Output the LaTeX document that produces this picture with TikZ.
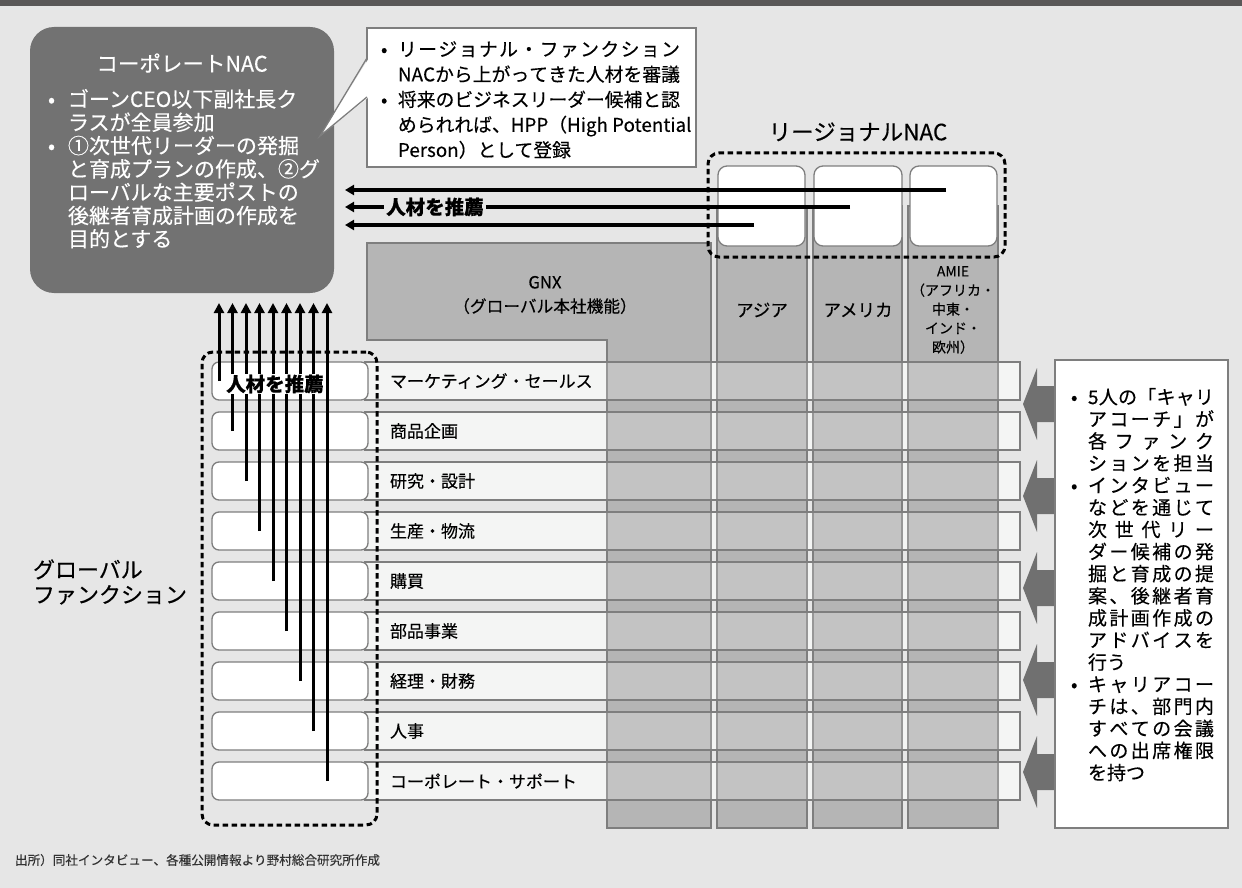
\documentclass[tikz,border=0pt]{standalone}
\usepackage{fontspec}
\setmainfont{Noto Sans CJK JP}[FakeBold=0.3]
\usetikzlibrary{arrows.meta,calc}
\definecolor{bg}{HTML}{E6E6E6}
\definecolor{topbar}{HTML}{5A5858}
\definecolor{nacgray}{HTML}{727272}
\definecolor{colgray}{HTML}{B5B5B5}
\definecolor{edgegray}{HTML}{7E7E7E}
\definecolor{bandfill}{HTML}{F2F3F2}
\definecolor{blockarrow}{HTML}{707070}
\definecolor{srcgray}{HTML}{333333}
\newcommand\fsz[2]{\fontsize{#1}{#2}\selectfont}
\makeatletter
\newcommand\jline[2]{\hbox to #1{\@tfor\jch:=#2\do{\jch\hfil}\unskip}}
\makeatother
\begin{document}
\begin{tikzpicture}[x=1pt,y=-1pt,
  every node/.style={inner sep=0pt, outer sep=0pt},
  nacbox/.style={fill=nacgray, rounded corners=24pt},
  whitebox/.style={fill=white, draw=edgegray, line width=1.3pt, rounded corners=7pt},
  bandbase/.style={fill=bandfill},
  bandedge/.style={draw=edgegray, line width=1.4pt, fill=white, fill opacity=0.2},
  colbox/.style={fill=colgray, draw=edgegray, line width=1.4pt},
  dashbox/.style={draw=black, line width=3pt, dash pattern=on 5.5pt off 3.5pt, rounded corners=11pt},
  uparrow/.style={line width=3pt, -{Triangle[length=10pt,width=10pt]}},
  harrow/.style={line width=3.2pt, -{Triangle[length=9pt,width=10pt]}},
  bandlabel/.style={font=\fsz{17}{20}},
  blockarr/.style={fill=blockarrow},
  recomm/.style={font=\bfseries\fsz{19.5}{22}}
]
\useasboundingbox (0,0) rectangle (1242,888);
\fill[bg] (0,0) rectangle (1242,888);
\fill[topbar] (0,0) rectangle (1242,6);

% bands (base)
\foreach \i in {1,...,9}{
  \pgfmathsetmacro\cy{381+50*(\i-1)}
  \node[bandbase, minimum width=655pt, minimum height=38pt] (b\i) at (692.5,\cy) {};
}

% GNX and regional columns
\draw[colbox] (367,243) -- (711,243) -- (711,828) -- (607,828) -- (607,340) -- (367,340) -- cycle;
\node[colbox, minimum width=90pt, minimum height=622pt] (c1) at (762,517) {};
\node[colbox, minimum width=89pt, minimum height=622pt] (c2) at (857.5,517) {};
\node[colbox, minimum width=90pt, minimum height=622pt] (c3) at (953,517) {};

% band overlays, white boxes, labels
\foreach \i/\lab in {1/マーケティング・セールス,2/商品企画,3/研究・設計,4/生産・物流,5/購買,6/部品事業,7/経理・財務,8/人事,9/コーポレート・サポート}{
  \pgfmathsetmacro\cy{381+50*(\i-1)}
  \draw[bandedge] (b\i.north west) rectangle (b\i.south east);
  \node[whitebox, minimum width=156pt, minimum height=38pt] (f\i) at (290,\cy) {};
  \node[bandlabel, anchor=west] (l\i) at (390,\cy) {\lab};
}

% texts in columns
\node[align=center, font=\fsz{16.7}{24}] (gnxlab) at (545,295) {GNX\\（グローバル本社機能）};
\node[font=\fsz{17.5}{20}] (asia) at (762,310) {アジア};
\node[font=\fsz{17.5}{20}] (amer) at (858,310) {アメリカ};
\node[align=center, font=\fsz{14}{19}] (amie) at (953,310) {AMIE\\（アフリカ・\\中東・\\インド・\\欧州）};

% Corporate NAC
\node[nacbox, minimum width=304pt, minimum height=266pt] (nac) at (182,160) {};
\node[text=white, font=\fsz{21.5}{24}] (nactitle) at (182,63) {コーポレートNAC};
\node[text=white, anchor=north west, align=left, font=\fsz{21}{23.3}] (nactext) at (48,89)
 {\makebox[20pt][l]{•}ゴーンCEO以下副社長ク\\
  \hspace*{20pt}ラスが全員参加\\
  \makebox[20pt][l]{•}①次世代リーダーの発掘\\
  \hspace*{20pt}と育成プランの作成、②グ\\
  \hspace*{20pt}ローバルな主要ポストの\\
  \hspace*{20pt}後継者育成計画の作成を\\
  \hspace*{20pt}目的とする};

% callout
\node[fill=white, draw=edgegray, line width=1.3pt, minimum width=329pt, minimum height=139pt] (callout) at (531.5,97.5) {};
\fill[white] (369,58) -- (320,136) -- (369,97) -- cycle;
\draw[edgegray, line width=1.3pt] (367,58) -- (320,136) -- (367,97);
\node[anchor=north west, align=left, font=\fsz{18.8}{25.2}] (callouttext) at (381,41)
 {\makebox[17pt][l]{•}\jline{282pt}{リージョナル・ファンクション}\\
  \hspace*{17pt}\jline{282pt}{NACから上がってきた人材を審議}\\
  \makebox[17pt][l]{•}\jline{282pt}{将来のビジネスリーダー候補と認}\\
  \hspace*{17pt}められれば、HPP（High Potential\\
  \hspace*{17pt}Person）として登録};

% Regional NAC
\node[font=\fsz{22.5}{26}] (rtitle) at (858,132) {リージョナルNAC};
\node[whitebox, rounded corners=9pt, minimum width=87pt, minimum height=80pt] (r1) at (761.5,206) {};
\node[whitebox, rounded corners=9pt, minimum width=88pt, minimum height=80pt] (r2) at (858,206) {};
\node[whitebox, rounded corners=9pt, minimum width=87pt, minimum height=80pt] (r3) at (953.5,206) {};
\node[dashbox, minimum width=297pt, minimum height=104pt] (rgroup) at (856.5,205) {};

% left dashed group
\node[dashbox, minimum width=175pt, minimum height=473pt] (fgroup) at (289.5,588.5) {};

% vertical arrows
\foreach \i in {1,...,9}{
  \pgfmathsetmacro\ax{219+13.5*(\i-1)}
  \coordinate (t\i) at (\ax,303);
  \draw[uparrow] (f\i.center -| t\i) -- (t\i);
}
\node[recomm, fill=white, inner xsep=0.5pt, inner ysep=1pt] (rec1) at (275,384) {人材を推薦};

% horizontal arrows
\coordinate (s3) at (946,190);
\coordinate (s2) at (850,207);
\coordinate (s1) at (754,225);
\coordinate (h3) at (345,190);
\coordinate (h2) at (345,207);
\coordinate (h1) at (345,225);
\draw[harrow] (s3) -- (h3);
\draw[harrow] (s2) -- (h2);
\draw[harrow] (s1) -- (h1);
\node[recomm, fill=bg, inner xsep=2pt, inner ysep=1pt] (rec2) at (435,207) {人材を推薦};

% right block arrows and box
\foreach \k in {0,...,4}{
  \pgfmathsetmacro\yy{404+92*\k}
  \fill[blockarr] (1023,\yy) -- (1037,\yy-36) -- (1037,\yy-18) -- (1058,\yy-18) -- (1058,\yy+18) -- (1037,\yy+18) -- (1037,\yy+36) -- cycle;
}
\node[fill=white, draw=edgegray, line width=1.3pt, minimum width=173pt, minimum height=468pt] (coach) at (1141.5,594) {};
\node[anchor=north west, align=left, font=\fsz{19}{22.1}] (coachtext) at (1071,388)
 {\makebox[17pt][l]{•}\jline{126pt}{5人の「キャリ}\\
  \hspace*{17pt}\jline{126pt}{アコーチ」が}\\
  \hspace*{17pt}\jline{126pt}{各ファンク}\\
  \hspace*{17pt}\jline{126pt}{ションを担当}\\
  \makebox[17pt][l]{•}\jline{126pt}{インタビュー}\\
  \hspace*{17pt}\jline{126pt}{などを通じて}\\
  \hspace*{17pt}\jline{126pt}{次世代リー}\\
  \hspace*{17pt}\jline{126pt}{ダー候補の発}\\
  \hspace*{17pt}\jline{126pt}{掘と育成の提}\\
  \hspace*{17pt}\jline{126pt}{案、後継者育}\\
  \hspace*{17pt}\jline{126pt}{成計画作成の}\\
  \hspace*{17pt}\jline{126pt}{アドバイスを}\\
  \hspace*{17pt}行う\\
  \makebox[17pt][l]{•}\jline{126pt}{キャリアコー}\\
  \hspace*{17pt}\jline{126pt}{チは、部門内}\\
  \hspace*{17pt}\jline{126pt}{すべての会議}\\
  \hspace*{17pt}\jline{126pt}{への出席権限}\\
  \hspace*{17pt}を持つ};

% left label and source
\node[anchor=west, align=left, font=\fsz{22}{25}] (gf) at (33,582) {グローバル\\ファンクション};
\node[anchor=west, text=srcgray, font=\fsz{12.6}{15}] (src) at (15,860) {出所）同社インタビュー、各種公開情報より野村総合研究所作成};
\end{tikzpicture}
\end{document}
